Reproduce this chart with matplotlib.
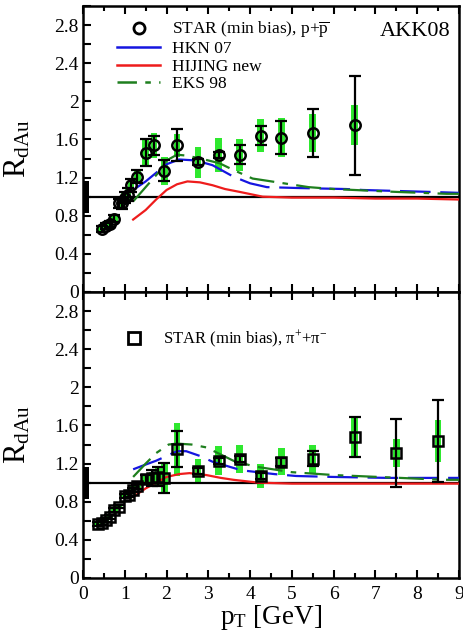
import matplotlib
matplotlib.use('Agg')
import matplotlib.pyplot as plt
from matplotlib.lines import Line2D
from matplotlib.ticker import MultipleLocator, FuncFormatter

plt.rcParams['font.family'] = ['Liberation Serif', 'DejaVu Serif']
plt.rcParams['mathtext.fontset'] = 'custom'
plt.rcParams['mathtext.rm'] = 'Liberation Serif'
plt.rcParams['mathtext.it'] = 'Liberation Serif:italic'
plt.rcParams['lines.scale_dashes'] = False

# ---------------- data: protons (top panel) ----------------
pp_pt = [0.45, 0.55, 0.65, 0.75, 0.85, 0.93, 1.0, 1.08, 1.15, 1.3, 1.5, 1.7, 1.95,
         2.25, 2.75, 3.25, 3.75, 4.25, 4.75, 5.5, 6.5]
pp_r = [0.66, 0.69, 0.71, 0.77, 0.93, 0.93, 0.99, 1.02, 1.12, 1.21, 1.46, 1.54, 1.27,
        1.54, 1.36, 1.44, 1.44, 1.64, 1.62, 1.67, 1.75]
pp_stat = [0.03, 0.03, 0.03, 0.04, 0.05, 0.06, 0.06, 0.07, 0.07, 0.07, 0.14, 0.10, 0.11,
           0.17, 0.03, 0.03, 0.10, 0.10, 0.17, 0.25, 0.52]
pp_sys = [0.04, 0.04, 0.04, 0.04, 0.00, 0.05, 0.05, 0.06, 0.06, 0.07, 0.13, 0.13, 0.15,
          0.12, 0.16, 0.18, 0.17, 0.17, 0.20, 0.20, 0.21]

# ---------------- data: pions (bottom panel) ----------------
pi_pt = [0.35, 0.45, 0.55, 0.65, 0.75, 0.85, 1.0, 1.1, 1.2, 1.3, 1.5, 1.65, 1.8, 1.95,
         2.25, 2.75, 3.25, 3.75, 4.25, 4.75, 5.5, 6.5, 7.5, 8.5]
pi_r = [0.57, 0.58, 0.61, 0.64, 0.71, 0.75, 0.86, 0.87, 0.92, 0.96, 1.04, 1.05, 1.06, 1.05,
        1.35, 1.12, 1.23, 1.25, 1.07, 1.22, 1.25, 1.48, 1.31, 1.44]
pi_stat = [0.02, 0.02, 0.02, 0.02, 0.02, 0.02, 0.02, 0.02, 0.02, 0.03, 0.04, 0.08, 0.10, 0.16,
           0.19, 0.03, 0.03, 0.03, 0.03, 0.04, 0.08, 0.21, 0.36, 0.43]
pi_sys = [0.03, 0.03, 0.03, 0.03, 0.03, 0.03, 0.03, 0.04, 0.04, 0.04, 0.05, 0.06, 0.10, 0.15,
          0.28, 0.13, 0.15, 0.15, 0.13, 0.14, 0.15, 0.20, 0.15, 0.22]

# ---------------- theory curves (top) ----------------
hkn_pp_pt = [1.2, 1.5, 1.75, 2.0, 2.3, 2.7, 3.1, 3.6, 4.0, 4.4, 5.2, 6.3, 6.7, 8.3, 9.0]
hkn_pp_r = [1.07, 1.16, 1.25, 1.34, 1.39, 1.38, 1.33, 1.21, 1.14, 1.10, 1.09, 1.08, 1.07, 1.05, 1.04]
hij_pp_pt = [1.2, 1.5, 1.75, 2.0, 2.25, 2.5, 2.8, 3.1, 3.4, 3.75, 4.3, 5.0, 6.0, 7.0, 8.0, 9.0]
hij_pp_r = [0.76, 0.86, 0.97, 1.07, 1.13, 1.16, 1.15, 1.12, 1.08, 1.05, 1.00, 0.99, 0.99, 0.98, 0.98, 0.97]
eks_pp_pt = [1.2, 1.5, 1.8, 2.0, 2.25, 2.5, 2.8, 3.0, 3.27, 3.6, 4.06, 4.66, 5.4, 6.0, 7.5, 8.7, 9.0]
eks_pp_r = [0.95, 1.10, 1.25, 1.38, 1.44, 1.43, 1.40, 1.38, 1.35, 1.28, 1.19, 1.15, 1.10, 1.08, 1.05, 1.03, 1.03]

# ---------------- theory curves (bottom) ----------------
hkn_pi_pt = [1.2, 1.5, 1.75, 1.95, 2.25, 2.47, 2.8, 3.1, 3.79, 4.58, 5.1, 6.0, 7.3, 8.6, 9.0]
hkn_pi_r = [1.14, 1.19, 1.23, 1.27, 1.33, 1.33, 1.28, 1.22, 1.13, 1.09, 1.07, 1.06, 1.05, 1.05, 1.05]
hij_pi_pt = [1.2, 1.5, 1.75, 2.0, 2.3, 2.55, 2.95, 3.3, 3.6, 4.2, 5.0, 6.0, 7.0, 8.0, 9.0]
hij_pi_r = [0.85, 0.94, 1.00, 1.06, 1.09, 1.10, 1.08, 1.05, 1.03, 1.00, 0.99, 0.99, 0.99, 0.99, 0.99]
eks_pi_pt = [1.2, 1.5, 1.75, 2.05, 2.25, 2.6, 2.95, 3.6, 4.1, 5.0, 6.0, 7.6, 8.6, 9.0]
eks_pi_r = [1.06, 1.20, 1.31, 1.40, 1.41, 1.40, 1.37, 1.23, 1.17, 1.11, 1.08, 1.05, 1.03, 1.03]

norm_unc = [0.83, 1.16]   # normalisation uncertainty band at R=1

ytick_vals = [0, 0.4, 0.8, 1.2, 1.6, 2.0, 2.4, 2.8]
xtick_vals = [0, 1, 2, 3, 4, 5, 6, 7, 8, 9]

C_BLUE = '#1515e0'
C_RED = '#ee1c1c'
C_GREEN = '#1e7f1e'
C_SYS = '#2ee82e'
DASH_BLUE = (22, 7)
DASH_GREEN = (18, 6, 4, 6)

fig = plt.figure(figsize=(4.64, 6.34), dpi=100)
ax1 = fig.add_axes([83/464, 1-292/634, (459-83)/464, (292-6)/634])
ax2 = fig.add_axes([83/464, 1-578/634, (459-83)/464, (578-292)/634])


def panel(ax, pt, r, stat, sys, marker, ms, hkn, hij, eks):
    ax.bar(pt, [2*s for s in sys], bottom=[a - s for a, s in zip(r, sys)],
           width=0.16, color=C_SYS, zorder=2, linewidth=0)
    ax.bar([0.08], [norm_unc[1]-norm_unc[0]], bottom=[norm_unc[0]], width=0.13,
           color='k', zorder=3, linewidth=0)
    ax.axhline(1.0, color='k', lw=1.6, zorder=3)
    ax.plot(hij[0], hij[1], color=C_RED, lw=1.6, zorder=4)
    ax.plot(hkn[0], hkn[1], color=C_BLUE, lw=1.6, dashes=DASH_BLUE, zorder=4)
    ax.plot(eks[0], eks[1], color=C_GREEN, lw=1.6, dashes=DASH_GREEN, zorder=4)
    ax.errorbar(pt, r, yerr=stat, fmt='none', ecolor='k', elinewidth=1.6,
                capsize=4, capthick=1.6, zorder=5)
    ax.plot(pt, r, ls='none', marker=marker, ms=ms, mfc='none', mec='k',
            mew=1.8, zorder=6)
    ax.set_xlim(0, 9)
    ax.set_ylim(0, 3)
    ax.set_yticks(ytick_vals)
    ax.yaxis.set_minor_locator(MultipleLocator(0.2))
    ax.set_xticks(xtick_vals)
    ax.xaxis.set_minor_locator(MultipleLocator(0.5))
    ax.yaxis.set_major_formatter(FuncFormatter(lambda v, p: '%g' % round(v, 2)))
    ax.tick_params(axis='both', which='both', direction='in', top=True,
                   right=False, width=1.5, labelsize=14)
    ax.tick_params(axis='y', which='both', length=6, pad=3)
    ax.tick_params(axis='x', which='major', length=6, pad=6)
    ax.tick_params(axis='x', which='minor', length=3.5)
    for s in ax.spines.values():
        s.set_linewidth(1.8)
    ax.set_ylabel(r'R$_{\rm dAu}$', fontsize=22)
    ax.yaxis.set_label_coords(-0.135, 0.5)


panel(ax1, pp_pt, pp_r, pp_stat, pp_sys, 'o', 7.5,
      (hkn_pp_pt, hkn_pp_r), (hij_pp_pt, hij_pp_r), (eks_pp_pt, eks_pp_r))
panel(ax2, pi_pt, pi_r, pi_stat, pi_sys, 's', 7.5,
      (hkn_pi_pt, hkn_pi_r), (hij_pi_pt, hij_pi_r), (eks_pi_pt, eks_pi_r))

ax1.tick_params(axis='x', which='both', labelbottom=False)
ax2.set_xlabel(r'p$_{\rm T}$ [GeV]', fontsize=19.5, labelpad=0)

h_top = [Line2D([], [], ls='none', marker='o', ms=8, mfc='none', mec='k', mew=2),
         Line2D([], [], color=C_BLUE, lw=1.8),
         Line2D([], [], color=C_RED, lw=1.8),
         Line2D([], [], color=C_GREEN, lw=1.8, dashes=(14, 6, 4, 6))]
l_top = [r'STAR (min bias), p+$\overline{\rm p}$', 'HKN 07', 'HIJING new', 'EKS 98']
ax1.legend(h_top, l_top, loc='upper left', bbox_to_anchor=(0.09, 0.952),
           frameon=False, fontsize=12.5, handlelength=2.5, handletextpad=0.7,
           labelspacing=0.07, borderpad=0, borderaxespad=0)
ax1.text(0.976, 0.91, 'AKK08', transform=ax1.transAxes, ha='right', va='center',
         fontsize=16)

h_bot = [Line2D([], [], ls='none', marker='s', ms=8, mfc='none', mec='k', mew=2)]
l_bot = [r'STAR (min bias), π$^{+}$+π$^{-}$']
ax2.legend(h_bot, l_bot, loc='upper left', bbox_to_anchor=(0.08, 0.872),
           frameon=False, fontsize=12, handlelength=2.5, handletextpad=0.5,
           borderpad=0, borderaxespad=0)

fig.savefig('out.png', dpi=100)
